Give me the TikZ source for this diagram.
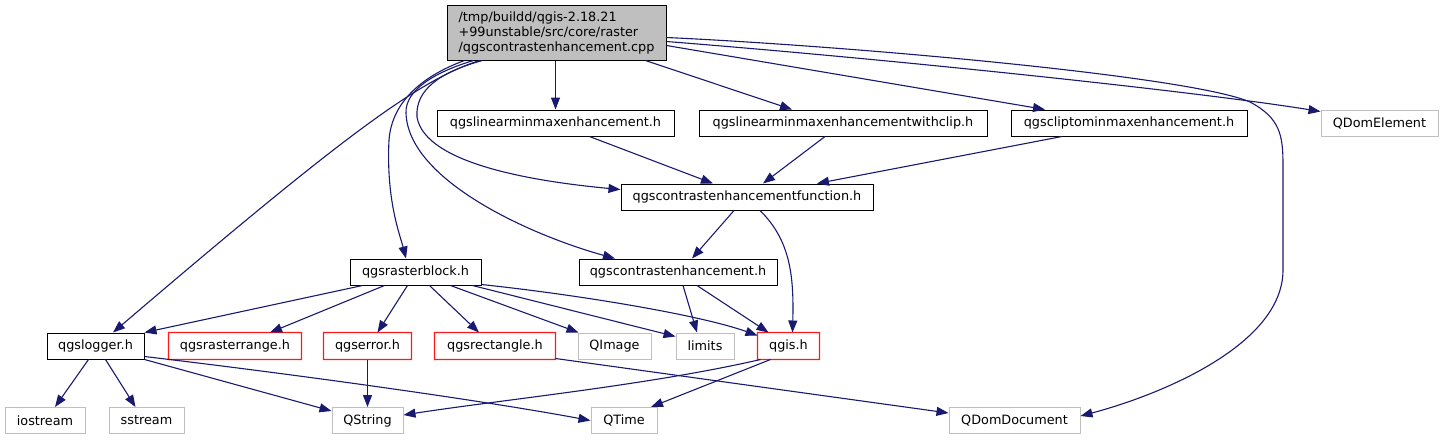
\documentclass[tikz,border=0pt]{standalone}
\usepackage{fontspec}
\setmainfont{DejaVu Sans}
\usetikzlibrary{arrows.meta}
\definecolor{edgeblue}{HTML}{191970}
\definecolor{extgray}{HTML}{BFBFBF}
\definecolor{mainfill}{HTML}{BFBFBF}
\definecolor{redbd}{rgb}{1,0.1,0.1}
\begin{document}
\begin{tikzpicture}[x=1pt,y=-1pt,
  nbase/.style={rectangle, minimum height=26pt, inner sep=0pt, line width=1pt,
    font=\fontsize{12.8}{15}\selectfont, anchor=center},
  bnode/.style={nbase, draw=black},
  rnode/.style={nbase},
  gnode/.style={nbase, draw=extgray},
  mainnode/.style={nbase, draw=black, fill=mainfill, align=left},
  redframe/.style={fill=redbd, even odd rule},
  edge/.style={draw=edgeblue, line width=1.1pt,
    -{Triangle[length=12pt,width=9pt,fill=edgeblue]}}
]
\useasboundingbox (0,0) rectangle (1444,440);

% nodes
\node[mainnode, minimum width=219pt, minimum height=55pt] (main) at (556.5,32.5)
  {/tmp/buildd/qgis-2.18.21\\+99unstable/src/core/raster\\/qgscontrastenhancement.cpp};
\node[bnode, minimum width=237pt] (linmin) at (555.5,123) {qgslinearminmaxenhancement.h};
\node[bnode, minimum width=288pt] (withclip) at (843,123) {qgslinearminmaxenhancementwithclip.h};
\node[bnode, minimum width=236pt] (clipto) at (1129,123) {qgscliptominmaxenhancement.h};
\node[gnode, minimum width=117pt] (domel) at (1379.5,123) {QDomElement};
\node[bnode, minimum width=252pt] (cef) at (747,197) {qgscontrastenhancementfunction.h};
\node[bnode, minimum width=131pt] (rblock) at (415.5,272) {qgsrasterblock.h};
\node[bnode, minimum width=198pt] (qce) at (678,272) {qgscontrastenhancement.h};
\node[bnode, minimum width=97pt] (logger) at (95.5,346) {qgslogger.h};
\node[rnode, minimum width=132pt] (rrange) at (235,346) {qgsrasterrange.h};
\node[rnode, minimum width=87pt] (qerr) at (367.5,346) {qgserror.h};
\node[rnode, minimum width=120pt] (rect) at (495,346) {qgsrectangle.h};
\node[gnode, minimum width=73pt] (qimage) at (614.5,346) {QImage};
\node[gnode, minimum width=58pt] (limits) at (705,346) {limits};
\node[rnode, minimum width=61pt] (qgis) at (788.5,346) {qgis.h};
\node[gnode, minimum width=80pt] (iostream) at (45,420.5) {iostream};
\node[gnode, minimum width=75pt] (sstream) at (146.5,420.5) {sstream};
\node[gnode, minimum width=71pt] (qstring) at (367.5,420.5) {QString};
\node[gnode, minimum width=66pt] (qtime) at (624,420.5) {QTime};
\node[gnode, minimum width=131pt] (domdoc) at (1014.5,420.5) {QDomDocument};

% red frames of the red nodes (filled, one point thick)
\foreach \n in {rrange,qerr,rect,qgis}
  \fill[redframe]
    ([shift={(-0.6pt,0.6pt)}]\n.north west) rectangle ([shift={(0.6pt,-0.6pt)}]\n.south east)
    ([shift={(0.6pt,-0.6pt)}]\n.north west) rectangle ([shift={(-0.6pt,0.6pt)}]\n.south east);

% edges from main
\draw[edge] (main.south -| linmin.north) -- (linmin.north);
\draw[edge] ([xshift=199pt]main.south west) -- ([xshift=-51pt]withclip.north);
\draw[edge] ([yshift=-41pt]main.north east) -- ([xshift=-84pt]clipto.north);
\draw[edge] ([yshift=-37pt]main.north east) .. controls (900,60) and (1200,92) .. ([yshift=-2pt]domel.north west);
\draw[edge] ([yshift=-33pt]main.north east) .. controls (850,46) and (1190,76) .. (1250,102)
  .. controls (1280,118) and (1283,135) .. (1283,165) -- (1283,270)
  .. controls (1283,345) and (1160,395) .. ([yshift=4.5pt]domdoc.east);
\draw[edge] ([xshift=36pt]main.south west) .. controls (440,72) and (415,90) .. (417,117)
  .. controls (425,165) and (540,182) .. ([yshift=7.5pt]cef.west);
\draw[edge] ([xshift=27pt]main.south west) .. controls (435,72) and (405,90) .. (406,113)
  .. controls (408,180) and (530,235) .. ([xshift=-63pt]qce.north);
\draw[edge] ([xshift=18pt]main.south west) .. controls (425,75) and (392,100) .. (389,140)
  .. controls (386,200) and (400,235) .. ([xshift=-9.5pt]rblock.north);
\draw[edge] ([xshift=33pt]main.south west) .. controls (420,80) and (350,130) .. ([xshift=17.5pt]logger.north);

% second level
\draw[edge] ([xshift=153pt]linmin.south west) -- ([xshift=-34pt]cef.north);
\draw[edge] ([xshift=-18pt]withclip.south) -- ([xshift=16pt]cef.north);
\draw[edge] ([xshift=-67pt]clipto.south) -- ([xshift=70pt]cef.north);
\draw[edge] ([xshift=-13pt]cef.south) -- ([xshift=14pt]qce.north);
\draw[edge] ([xshift=13pt]cef.south) .. controls (790,240) and (794,275) .. ([xshift=4pt]qgis.north);
\draw[edge] ([xshift=5pt]qce.south) -- ([xshift=-8pt]limits.north);
\draw[edge] ([xshift=19pt]qce.south) -- ([xshift=-20pt]qgis.north);

% rasterblock
\draw[edge] ([xshift=-53pt]rblock.south) -- (logger.north east);
\draw[edge] ([xshift=-31pt]rblock.south) -- ([xshift=35pt]rrange.north);
\draw[edge] ([xshift=-8pt]rblock.south) -- ([xshift=10pt]qerr.north);
\draw[edge] ([xshift=14pt]rblock.south) -- ([xshift=-16pt]rect.north);
\draw[edge] ([xshift=35pt]rblock.south) -- ([xshift=-36pt]qimage.north);
\draw[edge] ([xshift=57pt]rblock.south) -- ([yshift=-4pt]limits.north west);
\draw[edge] ([yshift=1pt]rblock.south east) .. controls (580,295) and (700,315) .. ([yshift=-3pt]qgis.north west);

% logger
\draw[edge] ([xshift=-7pt]logger.south) -- ([xshift=10pt]iostream.north);
\draw[edge] ([xshift=10pt]logger.south) -- ([xshift=-11pt]sstream.north);
\draw[edge] (logger.south east) -- ([yshift=-4pt]qstring.north west);
\draw[edge] ([yshift=3pt]logger.south east) .. controls (300,375) and (480,400) .. (qtime.west);

% others
\draw[edge] (qerr.south) -- (qstring.north);
\draw[edge] ([yshift=1pt]rect.south east) -- ([yshift=7.5pt]domdoc.west);
\draw[edge] ([xshift=-28pt]qgis.south) .. controls (650,385) and (500,400) .. ([yshift=5.5pt]qstring.east);
\draw[edge] ([xshift=-18pt]qgis.south) -- ([xshift=27pt]qtime.north);
\end{tikzpicture}
\end{document}
